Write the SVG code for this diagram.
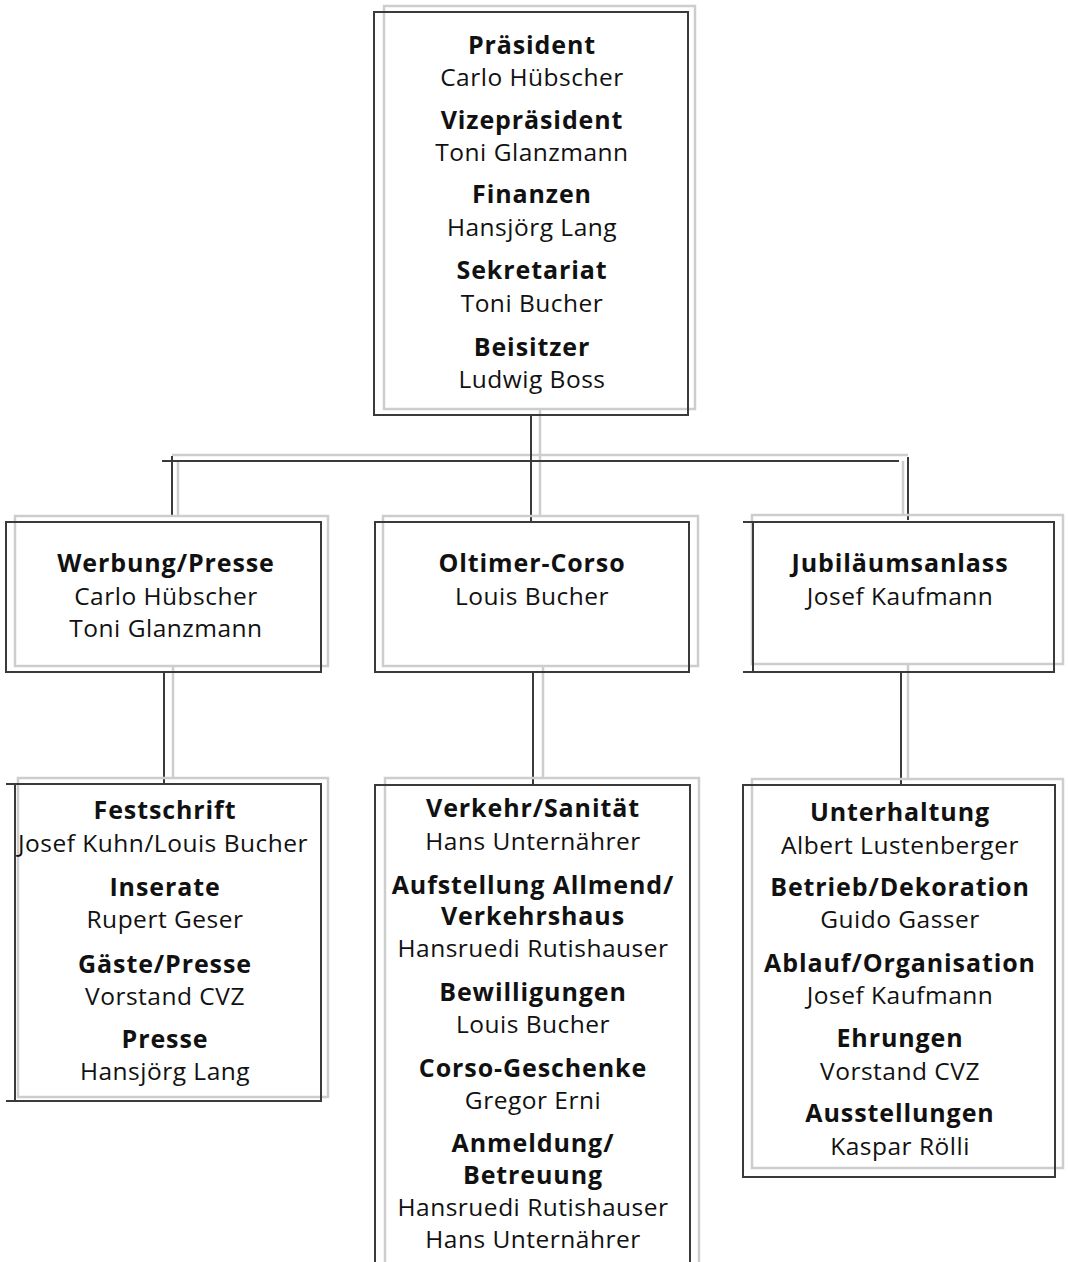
<svg xmlns="http://www.w3.org/2000/svg" width="1068" height="1262" viewBox="0 0 1068 1262">
<style>
.g{fill:none;stroke:#cdcdcd;stroke-width:2.5}
.d{fill:none;stroke:#3a3a3a;stroke-width:2}
text{font-family:"Open Sans","Noto Sans","Liberation Sans",sans-serif;font-size:24.5px;fill:#111;text-anchor:middle;letter-spacing:0.5px}
.b{font-weight:700;font-size:25px;letter-spacing:0.9px}
</style>
<rect width="1068" height="1262" fill="#fff"/>
<g id="connectors">
<path class="g" d="M540 410V516M172 455H908M178 461V516M903 461V515M173 666V779M543 666V778M908 664V779"/>
<path class="d" d="M531 415V522M162 461H899M172 456V516M908 457V520M164 672V783M533 672V785M901 672V785"/>
</g>
<g id="vorstand">
<rect class="g" x="384" y="6" width="311" height="403"/>
<rect class="d" x="374" y="12" width="314" height="403"/>
<text x="532" y="54" class="b">Präsident</text>
<text x="532" y="86">Carlo Hübscher</text>
<text x="532" y="129" class="b">Vizepräsident</text>
<text x="532" y="161">Toni Glanzmann</text>
<text x="532" y="203" class="b">Finanzen</text>
<text x="532" y="236">Hansjörg Lang</text>
<text x="532" y="279" class="b">Sekretariat</text>
<text x="532" y="312">Toni Bucher</text>
<text x="532" y="356" class="b">Beisitzer</text>
<text x="532" y="388">Ludwig Boss</text>
</g>
<g id="werbung">
<rect class="g" x="15" y="516" width="313" height="150"/>
<rect class="d" x="6" y="522" width="315" height="150"/>
<text x="166" y="572" class="b">Werbung/Presse</text>
<text x="166" y="605">Carlo Hübscher</text>
<text x="166" y="637">Toni Glanzmann</text>
</g>
<g id="oltimer">
<rect class="g" x="383" y="516" width="315" height="150"/>
<rect class="d" x="375" y="522" width="314" height="150"/>
<text x="532" y="572" class="b">Oltimer-Corso</text>
<text x="532" y="605">Louis Bucher</text>
</g>
<g id="jubilaeum">
<rect class="g" x="752" y="515" width="311" height="149"/>
<path class="d" d="M743 522H1054V672H743M753 522V672"/>
<text x="900" y="572" class="b">Jubiläumsanlass</text>
<text x="900" y="605">Josef Kaufmann</text>
</g>
<g id="werbung-sub">
<rect class="g" x="18" y="778" width="310" height="319"/>
<path class="d" d="M6 784H321V1101H6M15 784V1101"/>
<text x="165" y="819" class="b">Festschrift</text>
<text x="163" y="852">Josef Kuhn/Louis Bucher</text>
<text x="165" y="896" class="b">Inserate</text>
<text x="165" y="928">Rupert Geser</text>
<text x="165" y="973" class="b">Gäste/Presse</text>
<text x="165" y="1005">Vorstand CVZ</text>
<text x="165" y="1048" class="b">Presse</text>
<text x="165" y="1080">Hansjörg Lang</text>
</g>
<g id="oltimer-sub">
<path class="g" d="M385 1270V778H699V1270"/>
<path class="d" d="M375 1270V785H690V1270"/>
<text x="533" y="817" class="b">Verkehr/Sanität</text>
<text x="533" y="850">Hans Unternährer</text>
<text x="533" y="894" class="b">Aufstellung Allmend/</text>
<text x="533" y="925" class="b">Verkehrshaus</text>
<text x="533" y="957">Hansruedi Rutishauser</text>
<text x="533" y="1001" class="b">Bewilligungen</text>
<text x="533" y="1033">Louis Bucher</text>
<text x="533" y="1077" class="b">Corso-Geschenke</text>
<text x="533" y="1109">Gregor Erni</text>
<text x="533" y="1152" class="b">Anmeldung/</text>
<text x="533" y="1184" class="b">Betreuung</text>
<text x="533" y="1216">Hansruedi Rutishauser</text>
<text x="533" y="1248">Hans Unternährer</text>
</g>
<g id="jubilaeum-sub">
<rect class="g" x="752" y="779" width="311" height="389"/>
<rect class="d" x="743" y="785" width="312" height="392"/>
<text x="900" y="821" class="b">Unterhaltung</text>
<text x="900" y="854">Albert Lustenberger</text>
<text x="900" y="896" class="b">Betrieb/Dekoration</text>
<text x="900" y="928">Guido Gasser</text>
<text x="900" y="972" class="b">Ablauf/Organisation</text>
<text x="900" y="1004">Josef Kaufmann</text>
<text x="900" y="1047" class="b">Ehrungen</text>
<text x="900" y="1080">Vorstand CVZ</text>
<text x="900" y="1122" class="b">Ausstellungen</text>
<text x="900" y="1155">Kaspar Rölli</text>
</g>
</svg>
